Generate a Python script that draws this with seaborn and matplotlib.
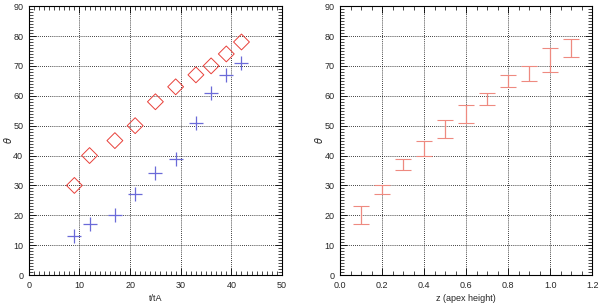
import numpy as np
import matplotlib
matplotlib.use("Agg")
import matplotlib.pyplot as plt
from matplotlib.ticker import MultipleLocator
import seaborn as sns
import pandas as pd

# left panel: theta vs t/tA
t_vals = [9, 12, 17, 21, 25, 29, 33, 36, 39, 42]
theta_diamond = [30, 40, 45, 50, 58, 63, 67, 70, 74, 78]
theta_cross = [13, 17, 20, 27, 34, 39, 51, 61, 67, 71]

# right panel: theta range vs apex height
z_vals = [0.1, 0.2, 0.3, 0.4, 0.5, 0.6, 0.7, 0.8, 0.9, 1.0, 1.1]
theta_low = [17, 27, 35, 40, 46, 51, 57, 63, 65, 68, 73]
theta_high = [23, 30, 39, 45, 52, 57, 61, 67, 70, 76, 79]

sns.set_style("white")
plt.rcParams['font.family'] = ['Liberation Sans', 'DejaVu Sans']

fig = plt.figure(figsize=(6.0, 3.06), dpi=100)
ax1 = fig.add_axes([0.048, 0.101, 0.422, 0.879])
ax2 = fig.add_axes([0.567, 0.101, 0.420, 0.879])

df_left = pd.DataFrame({"t": t_vals + t_vals,
                        "theta": theta_diamond + theta_cross,
                        "kind": ["d"] * len(t_vals) + ["c"] * len(t_vals)})

sns.scatterplot(data=df_left[df_left.kind == "d"], x="t", y="theta", ax=ax1,
                marker="D", s=65, facecolor="none", edgecolor="#e8403a",
                linewidth=0.7, legend=False, zorder=3)
sns.scatterplot(data=df_left[df_left.kind == "c"], x="t", y="theta", ax=ax1,
                marker="+", s=110, color="#6a6ad8", linewidth=0.9, legend=False,
                zorder=3)

mid = [(a + b) / 2 for a, b in zip(theta_low, theta_high)]
half = [(b - a) / 2 for a, b in zip(theta_low, theta_high)]
ax2.errorbar(z_vals, mid, yerr=half, fmt="none", ecolor="#ee8a80",
             elinewidth=0.9, capsize=6, capthick=0.8, zorder=3)

def style(ax, xmax, xmaj, xmin, xlabel):
    ax.set_xlim(0, xmax)
    ax.set_ylim(0, 90)
    ax.set_axisbelow(True)
    ax.xaxis.set_major_locator(MultipleLocator(xmaj))
    ax.xaxis.set_minor_locator(MultipleLocator(xmin))
    ax.yaxis.set_major_locator(MultipleLocator(10))
    ax.yaxis.set_minor_locator(MultipleLocator(1))
    ax.tick_params(which="both", direction="in", top=True, right=True,
                   bottom=True, left=True, color="black", labelsize=6.5, pad=4)
    ax.tick_params(which="major", length=5, width=0.6)
    ax.tick_params(which="minor", length=3, width=0.5)
    ax.grid(True, which="major", linestyle=(0, (1, 1.5)), color="black", linewidth=0.6)
    for sp in ax.spines.values():
        sp.set_color("black")
        sp.set_linewidth(0.8)
    ax.set_xlabel(xlabel, fontsize=6.5, labelpad=3)
    ax.set_ylabel(r"$\theta$", fontsize=7)
    ax.yaxis.set_label_coords(-0.06, 0.5)

style(ax1, 50, 10, 1, "t/tA")
style(ax2, 1.2, 0.2, 0.05, "z (apex height)")
ax2.xaxis.set_major_formatter(matplotlib.ticker.FormatStrFormatter("%.1f"))

fig.savefig("out.png", dpi=100)
